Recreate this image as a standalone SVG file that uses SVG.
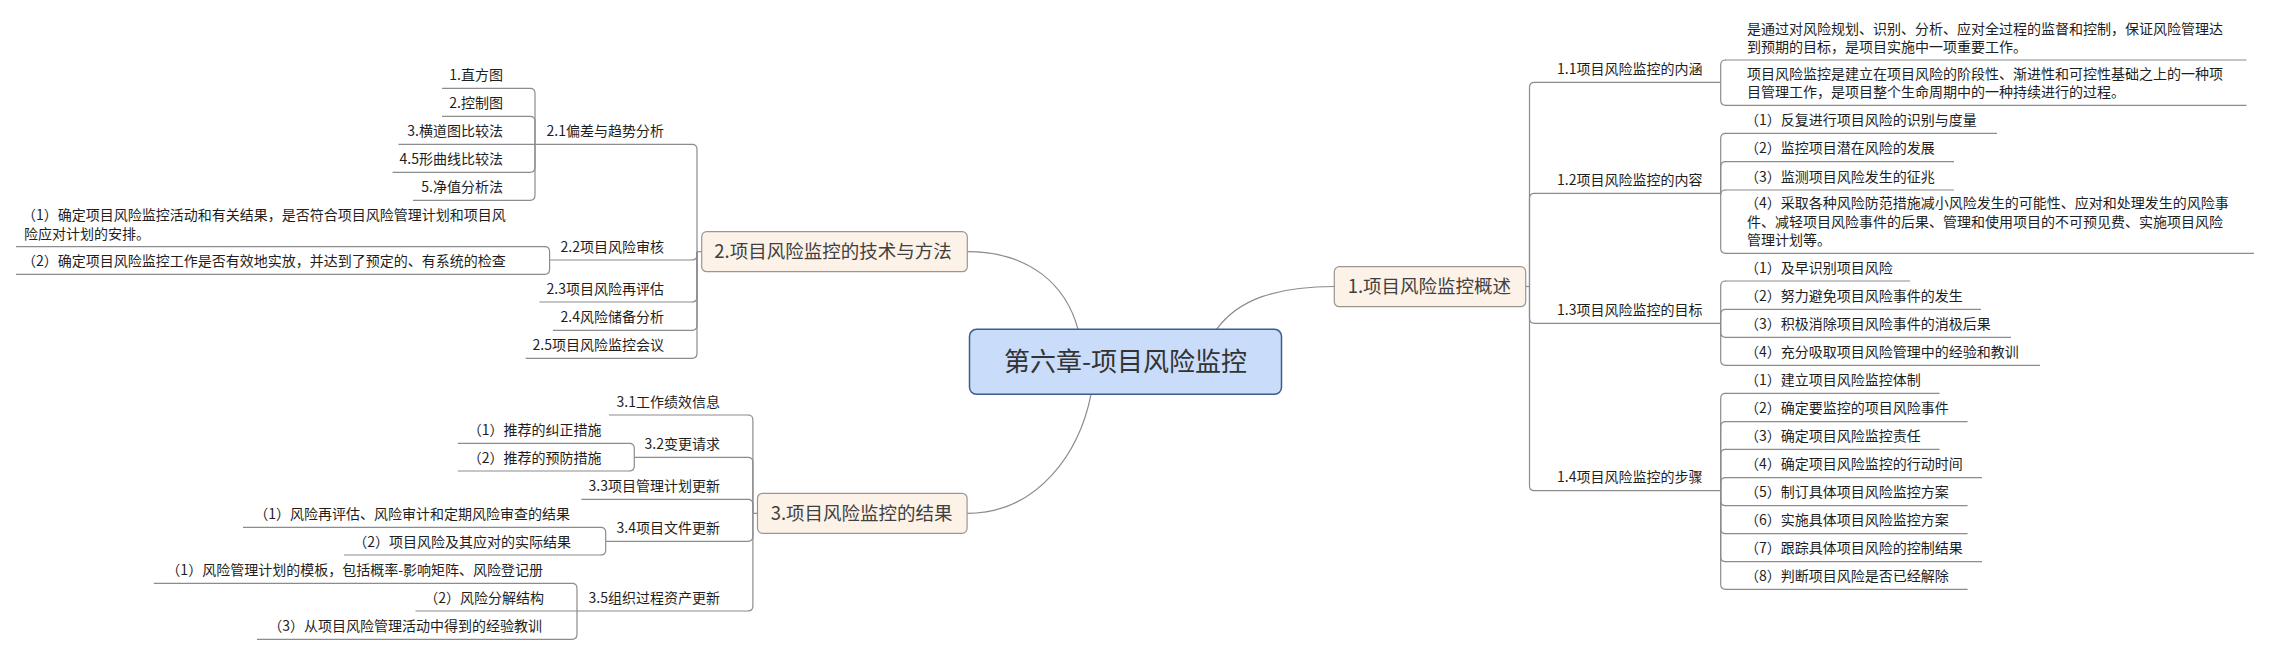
<svg xmlns="http://www.w3.org/2000/svg" width="2270" height="655" viewBox="0 0 2270 655">
<style>
.ln{fill:none;stroke:#8c8c8c;stroke-width:1.2}
.t{font-family:"Noto Sans CJK SC","Liberation Sans",sans-serif;font-size:14px;fill:#1e1e1e}
.e{text-anchor:end}
.l1{font-size:18.5px;fill:#404040}
.rt{font-size:26px;fill:#333;text-anchor:middle}
.box1{fill:#fdf2e8;stroke:#9c9690;stroke-width:1.2}
.rootbox{fill:#c9dcf9;stroke:#3e5b8e;stroke-width:1.5}
</style>
<rect width="2270" height="655" fill="#ffffff"/>
<g id="connectors">
<path class="ln" d="M967.3,251.7 C1030,251.7 1066,285 1078,329.3"/>
<path class="ln" d="M1216.6,329.3 C1238,300 1275,286.5 1334.3,286.5"/>
<path class="ln" d="M967.1,513.3 C1040,513.3 1080,450 1091,394.3"/>
<path class="ln" d="M1525.7,286.5 H1529.5"/>
<path class="ln" d="M1529.5,286.5 V87.3 Q1529.5,82.3 1534.5,82.3"/>
<path class="ln" d="M1529.5,286.5 V198.3 Q1529.5,193.3 1534.5,193.3"/>
<path class="ln" d="M1529.5,286.5 V318.3 Q1529.5,323.3 1534.5,323.3"/>
<path class="ln" d="M1529.5,286.5 V485.7 Q1529.5,490.7 1534.5,490.7"/>
<path class="ln" d="M1720.7,82.3 V65 Q1720.7,60 1725.7,60"/>
<path class="ln" d="M1720.7,82.3 V100.3 Q1720.7,105.3 1725.7,105.3"/>
<path class="ln" d="M1720.7,193.3 V138.3 Q1720.7,133.3 1725.7,133.3"/>
<path class="ln" d="M1720.7,193.3 V166.7 Q1720.7,161.7 1725.7,161.7"/>
<path class="ln" d="M1720.7,193.3 V195 Q1720.7,190 1725.7,190"/>
<path class="ln" d="M1720.7,193.3 V248.3 Q1720.7,253.3 1725.7,253.3"/>
<path class="ln" d="M1720.7,323.3 V286 Q1720.7,281 1725.7,281"/>
<path class="ln" d="M1720.7,323.3 V314.3 Q1720.7,309.3 1725.7,309.3"/>
<path class="ln" d="M1720.7,323.3 V332.3 Q1720.7,337.3 1725.7,337.3"/>
<path class="ln" d="M1720.7,323.3 V360.3 Q1720.7,365.3 1725.7,365.3"/>
<path class="ln" d="M1720.7,490.7 V398.3 Q1720.7,393.3 1725.7,393.3"/>
<path class="ln" d="M1720.7,490.7 V426.7 Q1720.7,421.7 1725.7,421.7"/>
<path class="ln" d="M1720.7,490.7 V454.3 Q1720.7,449.3 1725.7,449.3"/>
<path class="ln" d="M1720.7,490.7 V482.7 Q1720.7,477.7 1725.7,477.7"/>
<path class="ln" d="M1720.7,490.7 V500.7 Q1720.7,505.7 1725.7,505.7"/>
<path class="ln" d="M1720.7,490.7 V528.7 Q1720.7,533.7 1725.7,533.7"/>
<path class="ln" d="M1720.7,490.7 V556.7 Q1720.7,561.7 1725.7,561.7"/>
<path class="ln" d="M1720.7,490.7 V584.3 Q1720.7,589.3 1725.7,589.3"/>
<path class="ln" d="M701.7,251.7 H697"/>
<path class="ln" d="M697,251.7 V149.3 Q697,144.3 692,144.3"/>
<path class="ln" d="M697,251.7 V255 Q697,260 692,260"/>
<path class="ln" d="M697,251.7 V297 Q697,302 692,302"/>
<path class="ln" d="M697,251.7 V325.3 Q697,330.3 692,330.3"/>
<path class="ln" d="M697,251.7 V353.3 Q697,358.3 692,358.3"/>
<path class="ln" d="M535,144.3 V93.3 Q535,88.3 530,88.3"/>
<path class="ln" d="M535,144.3 V121.3 Q535,116.3 530,116.3"/>
<path class="ln" d="M535,144.3 V167.3 Q535,172.3 530,172.3"/>
<path class="ln" d="M535,144.3 V195.3 Q535,200.3 530,200.3"/>
<path class="ln" d="M549.6,260 V251.7 Q549.6,246.7 544.6,246.7"/>
<path class="ln" d="M549.6,260 V269.3 Q549.6,274.3 544.6,274.3"/>
<path class="ln" d="M757.5,513.3 H752.9"/>
<path class="ln" d="M752.9,513.3 V420 Q752.9,415 747.9,415"/>
<path class="ln" d="M752.9,513.3 V462.3 Q752.9,457.3 747.9,457.3"/>
<path class="ln" d="M752.9,513.3 V504.3 Q752.9,499.3 747.9,499.3"/>
<path class="ln" d="M752.9,513.3 V536.3 Q752.9,541.3 747.9,541.3"/>
<path class="ln" d="M752.9,513.3 V606 Q752.9,611 747.9,611"/>
<path class="ln" d="M634.3,457.3 V448.3 Q634.3,443.3 629.3,443.3"/>
<path class="ln" d="M634.3,457.3 V466 Q634.3,471 629.3,471"/>
<path class="ln" d="M605.7,541.3 V532.3 Q605.7,527.3 600.7,527.3"/>
<path class="ln" d="M605.7,541.3 V550 Q605.7,555 600.7,555"/>
<path class="ln" d="M577,611 V588.3 Q577,583.3 572,583.3"/>
<path class="ln" d="M577,611 V634.3 Q577,639.3 572,639.3"/>
</g>

<g id="root">
<rect class="rootbox" x="969.5" y="329.3" width="312" height="65" rx="7"/>
<text class="t rt" x="1125.5" y="371.2">第六章-项目风险监控</text>
</g>

<g id="n1">
<rect class="box1" x="1334.3" y="266.7" width="191.4" height="40" rx="5"/>
<text class="t l1" x="1347.7" y="293.4">1.项目风险监控概述</text>
</g>
<g id="n2">
<rect class="box1" x="701.7" y="231.7" width="265.6" height="40" rx="5"/>
<text class="t l1" x="714.3" y="258.4">2.项目风险监控的技术与方法</text>
</g>
<g id="n3">
<rect class="box1" x="757.5" y="493.3" width="209.6" height="40" rx="5"/>
<text class="t l1" x="770.7" y="520">3.项目风险监控的结果</text>
</g>

<g id="n1-1"><path class="ln" d="M1534,82.3 H1720.7"/><text class="t" x="1557" y="73.8">1.1项目风险监控的内涵</text></g>
<g id="n1-2"><path class="ln" d="M1534,193.3 H1720.7"/><text class="t" x="1557" y="184.8">1.2项目风险监控的内容</text></g>
<g id="n1-3"><path class="ln" d="M1534,323.3 H1720.7"/><text class="t" x="1557" y="314.8">1.3项目风险监控的目标</text></g>
<g id="n1-4"><path class="ln" d="M1534,490.7 H1720.7"/><text class="t" x="1557" y="482.2">1.4项目风险监控的步骤</text></g>

<g id="n1-1-1"><path class="ln" d="M1725,60 H2246.5"/><text class="t" x="1747" y="33.5">是通过对风险规划、识别、分析、应对全过程的监督和控制，保证风险管理达</text><text class="t" x="1747" y="52">到预期的目标，是项目实施中一项重要工作。</text></g>
<g id="n1-1-2"><path class="ln" d="M1725,105.3 H2246.5"/><text class="t" x="1747" y="78.8">项目风险监控是建立在项目风险的阶段性、渐进性和可控性基础之上的一种项</text><text class="t" x="1747" y="97.3">目管理工作，是项目整个生命周期中的一种持续进行的过程。</text></g>

<g id="n1-2-1"><path class="ln" d="M1725,133.3 H1997"/><text class="t" x="1745" y="125">（1）反复进行项目风险的识别与度量</text></g>
<g id="n1-2-2"><path class="ln" d="M1725,161.7 H1954"/><text class="t" x="1745" y="153.2">（2）监控项目潜在风险的发展</text></g>
<g id="n1-2-3"><path class="ln" d="M1725,190 H1954"/><text class="t" x="1745" y="181.5">（3）监测项目风险发生的征兆</text></g>
<g id="n1-2-4"><path class="ln" d="M1725,253.3 H2254"/><text class="t" x="1745" y="208">（4）采取各种风险防范措施减小风险发生的可能性、应对和处理发生的风险事</text><text class="t" x="1747" y="226.5">件、减轻项目风险事件的后果、管理和使用项目的不可预见费、实施项目风险</text><text class="t" x="1747" y="245">管理计划等。</text></g>

<g id="n1-3-1"><path class="ln" d="M1725,281 H1910"/><text class="t" x="1745" y="272.5">（1）及早识别项目风险</text></g>
<g id="n1-3-2"><path class="ln" d="M1725,309.3 H1981"/><text class="t" x="1745" y="300.8">（2）努力避免项目风险事件的发生</text></g>
<g id="n1-3-3"><path class="ln" d="M1725,337.3 H2011"/><text class="t" x="1745" y="328.8">（3）积极消除项目风险事件的消极后果</text></g>
<g id="n1-3-4"><path class="ln" d="M1725,365.3 H2040"/><text class="t" x="1745" y="356.8">（4）充分吸取项目风险管理中的经验和教训</text></g>

<g id="n1-4-1"><path class="ln" d="M1725,393.3 H1939.6"/><text class="t" x="1745" y="384.8">（1）建立项目风险监控体制</text></g>
<g id="n1-4-2"><path class="ln" d="M1725,421.7 H1967.6"/><text class="t" x="1745" y="413.2">（2）确定要监控的项目风险事件</text></g>
<g id="n1-4-3"><path class="ln" d="M1725,449.3 H1939.6"/><text class="t" x="1745" y="440.8">（3）确定项目风险监控责任</text></g>
<g id="n1-4-4"><path class="ln" d="M1725,477.7 H1982"/><text class="t" x="1745" y="469.2">（4）确定项目风险监控的行动时间</text></g>
<g id="n1-4-5"><path class="ln" d="M1725,505.7 H1967.6"/><text class="t" x="1745" y="497.2">（5）制订具体项目风险监控方案</text></g>
<g id="n1-4-6"><path class="ln" d="M1725,533.7 H1967.6"/><text class="t" x="1745" y="525.2">（6）实施具体项目风险监控方案</text></g>
<g id="n1-4-7"><path class="ln" d="M1725,561.7 H1982"/><text class="t" x="1745" y="553.2">（7）跟踪具体项目风险的控制结果</text></g>
<g id="n1-4-8"><path class="ln" d="M1725,589.3 H1967.6"/><text class="t" x="1745" y="580.8">（8）判断项目风险是否已经解除</text></g>

<g id="n2-1"><path class="ln" d="M535,144.3 H692.5"/><text class="t e" x="664" y="135.8">2.1偏差与趋势分析</text></g>
<g id="n2-2"><path class="ln" d="M549.6,260 H692.5"/><text class="t e" x="664" y="251.5">2.2项目风险审核</text></g>
<g id="n2-3"><path class="ln" d="M539.5,302 H692.5"/><text class="t e" x="664" y="293.5">2.3项目风险再评估</text></g>
<g id="n2-4"><path class="ln" d="M553,330.3 H692.5"/><text class="t e" x="664" y="321.8">2.4风险储备分析</text></g>
<g id="n2-5"><path class="ln" d="M525.7,358.3 H692.5"/><text class="t e" x="664" y="349.8">2.5项目风险监控会议</text></g>

<g id="n2-1-1"><path class="ln" d="M442,88.3 H530.5"/><text class="t e" x="503" y="79.8">1.直方图</text></g>
<g id="n2-1-2"><path class="ln" d="M442,116.3 H530.5"/><text class="t e" x="503" y="107.8">2.控制图</text></g>
<g id="n2-1-3"><path class="ln" d="M398.5,144.3 H535"/><text class="t e" x="503" y="135.8">3.横道图比较法</text></g>
<g id="n2-1-4"><path class="ln" d="M392.6,172.3 H530.5"/><text class="t e" x="503" y="163.8">4.5形曲线比较法</text></g>
<g id="n2-1-5"><path class="ln" d="M413,200.3 H530.5"/><text class="t e" x="503" y="191.8">5.净值分析法</text></g>

<g id="n2-2-1"><path class="ln" d="M16,246.7 H545"/><text class="t" x="22" y="220.2">（1）确定项目风险监控活动和有关结果，是否符合项目风险管理计划和项目风</text><text class="t" x="24" y="238.7">险应对计划的安排。</text></g>
<g id="n2-2-2"><path class="ln" d="M16,274.3 H545"/><text class="t" x="22" y="266">（2）确定项目风险监控工作是否有效地实放，并达到了预定的、有系统的检查</text></g>

<g id="n3-1"><path class="ln" d="M609,415 H748.4"/><text class="t e" x="720" y="406.5">3.1工作绩效信息</text></g>
<g id="n3-2"><path class="ln" d="M634.3,457.3 H748.4"/><text class="t e" x="720" y="448.8">3.2变更请求</text></g>
<g id="n3-3"><path class="ln" d="M581.4,499.3 H748.4"/><text class="t e" x="720" y="490.8">3.3项目管理计划更新</text></g>
<g id="n3-4"><path class="ln" d="M605.7,541.3 H748.4"/><text class="t e" x="720" y="532.8">3.4项目文件更新</text></g>
<g id="n3-5"><path class="ln" d="M577,611 H748.4"/><text class="t e" x="720" y="602.5">3.5组织过程资产更新</text></g>

<g id="n3-2-1"><path class="ln" d="M457.8,443.3 H629.8"/><text class="t e" x="601.5" y="434.8">（1）推荐的纠正措施</text></g>
<g id="n3-2-2"><path class="ln" d="M457.8,471 H629.8"/><text class="t e" x="601.5" y="462.5">（2）推荐的预防措施</text></g>
<g id="n3-4-1"><path class="ln" d="M243,527.3 H601.2"/><text class="t e" x="570" y="518.8">（1）风险再评估、风险审计和定期风险审查的结果</text></g>
<g id="n3-4-2"><path class="ln" d="M344,555 H601.2"/><text class="t e" x="571" y="546.5">（2）项目风险及其应对的实际结果</text></g>
<g id="n3-5-1"><path class="ln" d="M153.8,583.3 H572.5"/><text class="t e" x="543" y="574.8">（1）风险管理计划的模板，包括概率-影响矩阵、风险登记册</text></g>
<g id="n3-5-2"><path class="ln" d="M415.5,611 H577"/><text class="t e" x="544" y="602.5">（2）风险分解结构</text></g>
<g id="n3-5-3"><path class="ln" d="M257,639.3 H572.5"/><text class="t e" x="542" y="630.8">（3）从项目风险管理活动中得到的经验教训</text></g>
</svg>
